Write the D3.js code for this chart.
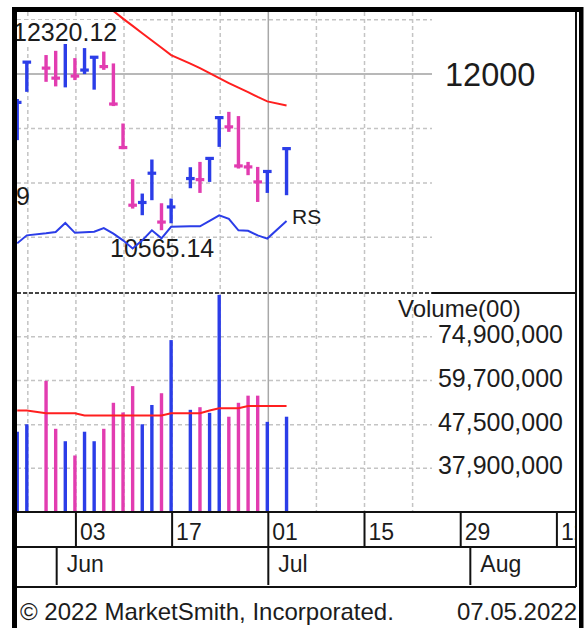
<!DOCTYPE html>
<html><head><meta charset="utf-8">
<script src="https://cdn.jsdelivr.net/npm/d3@7"></script>
<style>html,body{margin:0;padding:0;background:#fff;}svg{display:block;font-family:"Liberation Sans",Arial,sans-serif;}</style>
</head><body>
<script>
// ---- data ----
const tradeDates = ["2022-05-26","2022-05-27","2022-05-31","2022-06-01","2022-06-02","2022-06-03","2022-06-06","2022-06-07","2022-06-08","2022-06-09","2022-06-10","2022-06-13","2022-06-14","2022-06-15","2022-06-16","2022-06-17","2022-06-21","2022-06-22","2022-06-23","2022-06-24","2022-06-27","2022-06-28","2022-06-29","2022-06-30","2022-07-01","2022-07-05"];
const highs  = [11771,12113,12175,12214,12320.12,12147,12239,12161,12207,12098,11546,11034,10902,11215,10813,10856,11144,11193,11233,11607,11653,11614,11193,11147,11117,11322];
const lows   = [11393,11837,11929,11887,11878,11945,12000,11857,12039,11706,11310,10764,10703,10841,10565.14,10629,10951,10908,11009,11331,11469,11132,11071,10825,10908,10887];
const closes = [11740,12110,12055,11963,12312,11982,12037,12155,12069,11725,11325,10795,10820,11089,10640,10779,11040,11030,11225,11600,11515,11156,11147,11009,11105,11315];
const priorClose = 11430;
const priceMA = [null,null,null,null,null,null,null,null,null,12580,12510,12443,12375,12309,12242,12175,12097,12055,12010,11962,11918,11875,11834,11790,11749,11712];
// RS line, plotted in price-axis units
const rsLine = [10445,10518,10537,10549,10632,10541,10546,10551,10585,10534,10472,10398,10472,10564,10491,10597,10601,10601,10652,10702,10670,10564,10560,10518,10488,10650];
const volumes = [45.8e6,47.6e6,59.6e6,46.5e6,43.6e6,40.5e6,45.8e6,43.6e6,46.5e6,53.2e6,50.6e6,58.0e6,47.6e6,52.6e6,55.9e6,73.6e6,51.3e6,52.0e6,50.5e6,93.0e6,49.5e6,53.2e6,55.2e6,55.2e6,48.2e6,49.5e6];
const volumeMA = [51.1e6,51.1e6,50.4e6,50.4e6,50.4e6,50.4e6,49.8e6,49.8e6,49.8e6,49.8e6,49.8e6,49.8e6,49.8e6,49.8e6,49.8e6,50.4e6,50.4e6,50.4e6,51.1e6,51.7e6,51.7e6,51.7e6,52.3e6,52.3e6,52.3e6,52.3e6];
const priceGrid = [10500,11000,11500,12000,12500];
const priceLabel = 12000;
const volumeGrid = [37900000,47500000,59700000,74900000];
const weekGrid = ["2022-05-27","2022-06-03","2022-06-10","2022-06-17","2022-06-24","2022-07-01","2022-07-08","2022-07-15","2022-07-22"];
const quarterLines = ["2022-07-01"];
const dateTicks = ["2022-06-03","2022-06-17","2022-07-01","2022-07-15","2022-07-29","2022-08-12"];
const monthTicks = ["2022-06-01","2022-07-01","2022-08-01"];
const highLabel = "12320.12", lowLabel = "10565.14";
const footerLeft = "© 2022 MarketSmith, Incorporated.", footerRight = "07.05.2022";

// ---- setup ----
const W = 586, H = 628;
const BLUE = "#2b3de8", MAG = "#e23cb0", RED = "#ff1f1f", TXT = "#1c1c1c";
const fmt = d3.timeFormat("%Y-%m-%d"), parse = d3.timeParse("%Y-%m-%d");
const slots = d3.timeDay.range(new Date(2022,4,26), new Date(2022,7,13)).filter(d => d.getDay() % 6 !== 0);
const slotIdx = new Map(slots.map((d,i) => [fmt(d), i]));
const L = 17, R = 576, PR = 432, TOP = 12, DIV = 293, VB = 512, DR = 547, MR = 587;

const x = d3.scaleLinear().domain([0, slots.length - 1]).range([18.2, 556.9]);
const xs = s => x(slotIdx.get(s));
const xb = s => xs(s) - 1;
const y = d3.scaleLinear().domain([10500, 12500]).range([237.3, 19.7]);
const yv = d3.scaleLog().domain([37.9e6, 74.9e6]).range([468.3, 336.7]);

const svg = d3.select("body").append("svg").attr("width", W).attr("height", H);
svg.append("rect").attr("width", W).attr("height", H).attr("fill", "#fff");
const defs = svg.append("defs");
defs.append("clipPath").attr("id","cp").append("rect").attr("x",L).attr("y",TOP).attr("width",R-L).attr("height",DIV-TOP);
defs.append("clipPath").attr("id","cv").append("rect").attr("x",L).attr("y",DIV).attr("width",R-L).attr("height",VB-DIV);
defs.append("clipPath").attr("id","ca").append("rect").attr("x",L).attr("y",VB).attr("width",R-L).attr("height",H-VB);

const pp = svg.append("g").attr("clip-path","url(#cp)");
const vp = svg.append("g").attr("clip-path","url(#cv)");

// grids
pp.selectAll(".hg").data(priceGrid).join("line")
  .attr("x1", L).attr("x2", PR).attr("y1", d => y(d)).attr("y2", d => y(d))
  .attr("stroke", d => d === priceLabel ? "#a0a0a0" : "#c4c4c4")
  .attr("stroke-width", 1.5).attr("stroke-dasharray", d => d === priceLabel ? null : "4,3");
vp.selectAll(".vg").data(volumeGrid).join("line")
  .attr("x1", L).attr("x2", PR).attr("y1", d => yv(d)).attr("y2", d => yv(d))
  .attr("stroke", "#c4c4c4").attr("stroke-width", 1.5).attr("stroke-dasharray", "4,3");
[[pp, TOP, DIV], [vp, DIV, VB]].forEach(([g, a, b]) => {
  g.selectAll(".wg").data(weekGrid).join("line")
    .attr("x1", d => xs(d)).attr("x2", d => xs(d)).attr("y1", a).attr("y2", b)
    .attr("stroke", d => quarterLines.includes(d) ? "#a8a8a8" : "#c4c4c4")
    .attr("stroke-width", 1.5).attr("stroke-dasharray", d => quarterLines.includes(d) ? null : "4,3");
});

// price MA
const pts = tradeDates.map((d,i) => ({d, i}));
pp.append("path").datum(pts.filter(p => priceMA[p.i] != null))
  .attr("d", d3.line().x(p => xb(p.d)).y(p => y(priceMA[p.i])))
  .attr("fill","none").attr("stroke",RED).attr("stroke-width",2);

// price bars
const up = i => closes[i] >= (i === 0 ? priorClose : closes[i-1]);
const bars = pp.append("g").selectAll("g").data(pts).join("g").attr("fill", p => up(p.i) ? BLUE : MAG);
bars.append("rect").attr("x", p => xb(p.d) - 1.7).attr("width", 3.4)
  .attr("y", p => y(highs[p.i])).attr("height", p => y(lows[p.i]) - y(highs[p.i]));
bars.append("rect").attr("x", p => xb(p.d) - 4.3).attr("width", 8.6)
  .attr("y", p => y(closes[p.i]) - 1.6).attr("height", 3.2);

// labels in price panel
const hl = pp.append("g");
hl.append("rect").attr("x", 12).attr("y", 20).attr("width", 108).attr("height", 24).attr("fill", "#fff");
hl.append("text").attr("x", 13).attr("y", 41).attr("font-size", 25).attr("fill", TXT).text(highLabel);
pp.append("text").attr("x", 110).attr("y", 257).attr("font-size", 25).attr("fill", TXT).text(lowLabel);
pp.append("text").attr("x", 30).attr("y", 205).attr("text-anchor","end").attr("font-size", 25).attr("fill", TXT).text("9");
svg.append("text").attr("x", 445).attr("y", y(priceLabel) + 11.5).attr("font-size", 32.5).attr("fill", TXT).text(d3.format("d")(priceLabel));

// RS line
pp.append("path").datum(pts).attr("d", d3.line().x(p => xb(p.d)).y(p => y(rsLine[p.i])))
  .attr("fill","none").attr("stroke",BLUE).attr("stroke-width",2);
pp.append("text").attr("x", 292).attr("y", 224).attr("font-size", 21).attr("fill", TXT).text("RS");

// volume bars
vp.append("g").selectAll("rect").data(pts).join("rect")
  .attr("x", p => xb(p.d) - 1.7).attr("width", 3.4)
  .attr("y", p => yv(volumes[p.i])).attr("height", p => VB - yv(volumes[p.i]))
  .attr("fill", p => up(p.i) ? BLUE : MAG);
vp.append("path").datum(pts).attr("d", d3.line().x(p => xb(p.d)).y(p => yv(volumeMA[p.i])))
  .attr("fill","none").attr("stroke",RED).attr("stroke-width",2);
svg.append("text").attr("x", 398).attr("y", 317).attr("font-size", 24).attr("fill", TXT).text("Volume(00)");
svg.selectAll(".vl").data(volumeGrid).join("text")
  .attr("x", 563).attr("y", d => yv(d) + 6).attr("text-anchor","end").attr("font-size", 25).attr("fill", TXT)
  .text(d => d3.format(",")(d));

// date axis
const ax = svg.append("g").attr("clip-path","url(#ca)");
ax.selectAll(".dt").data(dateTicks).join("line")
  .attr("x1", d => xs(d)).attr("x2", d => xs(d)).attr("y1", VB).attr("y2", DR).attr("stroke","#111").attr("stroke-width",2);
ax.selectAll(".dl").data(dateTicks).join("text")
  .attr("x", d => xs(d) + 4).attr("y", 540).attr("font-size", 23).attr("fill", TXT)
  .text(d => d3.timeFormat("%d")(parse(d)));
ax.selectAll(".mt").data(monthTicks).join("line")
  .attr("x1", d => xs(d)).attr("x2", d => xs(d)).attr("y1", DR).attr("y2", 585).attr("stroke","#111").attr("stroke-width",2);
ax.selectAll(".ml").data(monthTicks).join("text")
  .attr("x", d => xs(d) + 10).attr("y", 572).attr("font-size", 23).attr("fill", TXT)
  .text(d => d3.timeFormat("%b")(parse(d)));

// footer
svg.append("text").attr("x", 20).attr("y", 620).attr("font-size", 24).attr("fill", TXT).text(footerLeft);
svg.append("text").attr("x", 577).attr("y", 620).attr("text-anchor","end").attr("font-size", 24).attr("fill", TXT).text(footerRight);

// frame
const fr = svg.append("g");
fr.append("line").attr("x1", L).attr("x2", PR).attr("y1", DIV).attr("y2", DIV).attr("stroke","#444").attr("stroke-width",2).attr("stroke-dasharray","4,2");
fr.append("line").attr("x1", PR).attr("x2", R).attr("y1", DIV).attr("y2", DIV).attr("stroke","#111").attr("stroke-width",2);
[VB, DR, MR].forEach(v => fr.append("line").attr("x1", L).attr("x2", R).attr("y1", v).attr("y2", v).attr("stroke","#111").attr("stroke-width",2));
fr.append("line").attr("x1", R).attr("x2", R).attr("y1", TOP).attr("y2", MR).attr("stroke","#111").attr("stroke-width",2);
fr.append("rect").attr("x", 12).attr("y", 7).attr("width", 571).attr("height", 5).attr("fill","#000");
fr.append("rect").attr("x", 12).attr("y", 7).attr("width", 5).attr("height", H-7).attr("fill","#000");
fr.append("rect").attr("x", 579).attr("y", 7).attr("width", 4.5).attr("height", H-7).attr("fill","#000");
</script>
</body></html>
